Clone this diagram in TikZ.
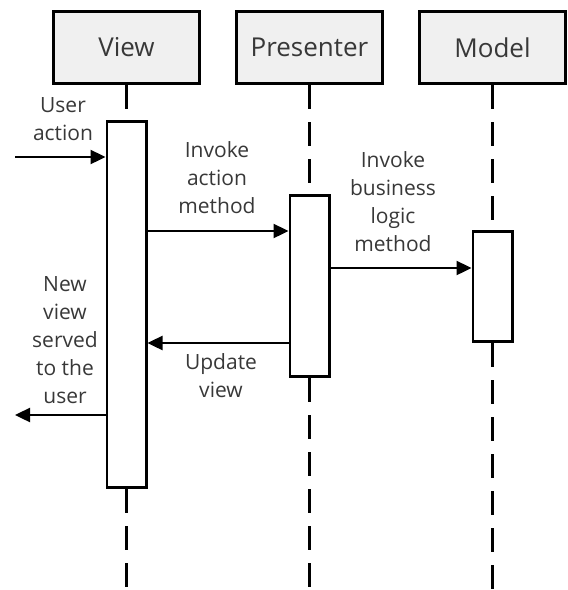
\documentclass[tikz,border=0pt]{standalone}
\usepackage{fontspec}
\setmainfont{Open Sans}
\usetikzlibrary{
  arrows.meta,
  positioning,
}
\definecolor{labelgray}{HTML}{383838}
\definecolor{headfill}{HTML}{F0F0F0}
\tikzstyle{object} = [
rectangle,
draw,
line width=1.3pt,
fill=headfill,
minimum width=73.2pt,
minimum height=36.2pt,
text=labelgray,
font=\fontsize{13}{15.6}\selectfont
]
\tikzstyle{activation} = [
rectangle,
draw,
line width=1.3pt,
fill=white,
minimum width=19.7pt,
inner sep=0pt
]
\tikzstyle{message} = [
align=center,
inner sep=0pt,
text=labelgray,
font=\fontsize{10.5}{14}\selectfont
]
\tikzstyle{lifeline} = [draw, line width=1.4pt, dash pattern=on 12pt off 6.5pt]
\tikzstyle{arrow} = [draw, line width=1.2pt, -{Triangle[length=7.5pt,width=7pt]}]

\begin{document}
\begin{tikzpicture}[x=0.5pt, y=-0.5pt, node distance=17pt]
  \useasboundingbox (0,0) rectangle (568,590);
  % Place nodes
  \node [object] (view) at (126.5,47.5) {View};
  \node [object, right=of view] (presenter) {Presenter};
  \node [object, right=of presenter] (model) {Model};

  \node [activation, minimum height=183.2pt] (viewact) at (view |- 0,304.5) {};
  \node [activation, minimum height=90.7pt] (presact) at (presenter |- 0,286) {};
  \node [activation, minimum height=55.2pt] (modelact) at (model |- 0,286.5) {};

  \coordinate (bottom) at (0,590);
  \coordinate (userin) at (15,157);
  \coordinate (userout) at (15,415);
  \coordinate (call1) at (0,231);
  \coordinate (call2) at (0,268);
  \coordinate (reply) at (0,343);

  \node [message] (useraction) at (63,119) {User\\action};
  \node [message] (invokeaction) at (217,177.5) {Invoke\\action\\method};
  \node [message] (invokelogic) at (393,201.5) {Invoke\\business\\logic\\method};
  \node [message] (updateview) at (221,376) {Update\\view};
  \node [message] (newview) at (65,340) {New\\view\\served\\to the\\user};

  % Draw lifelines
  \path [lifeline] (view) -- (viewact);
  \path [lifeline] (presenter) -- (presact);
  \path [lifeline] (model) -- (modelact);
  \path [lifeline] (viewact.south) -- (viewact.south |- bottom);
  \path [lifeline] (presact.south) -- (presact.south |- bottom);
  \path [lifeline] (modelact.south) -- (modelact.south |- bottom);

  % Draw edges
  \path [arrow] (userin) -- (userin -| viewact.west);
  \path [arrow] (viewact.east |- call1) -- (presact.west |- call1);
  \path [arrow] (presact.east |- call2) -- (modelact.west |- call2);
  \path [arrow] (presact.west |- reply) -- (viewact.east |- reply);
  \path [arrow] (viewact.west |- userout) -- (userout);
\end{tikzpicture}
\end{document}
